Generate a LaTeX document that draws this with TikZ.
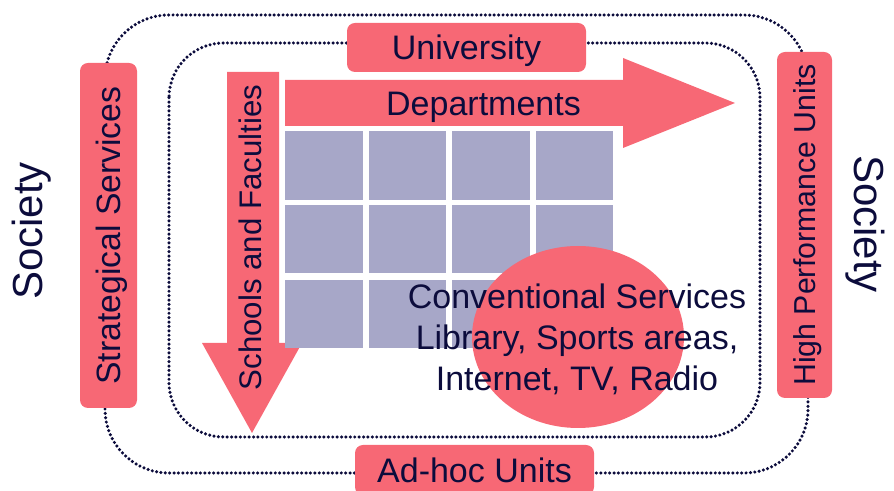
\documentclass[tikz,border=0pt]{standalone}
\usepackage{fontspec}
\setmainfont{Liberation Sans}
\usetikzlibrary{shapes.geometric}
\definecolor{boxpink}{RGB}{247,104,117}
\definecolor{cell}{RGB}{167,167,200}
\definecolor{ink}{RGB}{12,12,60}

\begin{document}
\begin{tikzpicture}[x=0.75pt,y=-0.75pt,
  pinkbox/.style={fill=boxpink, rounded corners=6pt, inner sep=0pt, text=ink, text depth=0pt},
  label/.style={text=ink, inner sep=0pt, text depth=0pt},
  dotline/.style={draw=ink, line width=2.6pt, line cap=round, dash pattern=on 0pt off 3.3pt},
  big/.style={font=\fontsize{25.5}{30.75}\selectfont, text height=18.26pt}]
\useasboundingbox (0,0) rectangle (894,491);

% outer and inner dotted frames
\draw[dotline, rounded corners=48pt] (105,15) rectangle (808,473);
\draw[dotline, rounded corners=41pt] (169,43) rectangle (760,437);

% downward arrow of the schools
\fill[boxpink] (227,72) -- (279,72) -- (279,343) -- (302,343) -- (252,433)
  -- (202,343) -- (227,343) -- cycle;

% matrix of cells
\foreach \xa/\xb in {285/363,369/446,452/530,536/613}
  \foreach \ya/\yb in {131/200,205/273,280/348}
    \fill[cell] (\xa,\ya) rectangle (\xb,\yb);

% rightward arrow of the departments
\fill[boxpink] (285,80) -- (623,80) -- (623,58) -- (735,103) -- (623,148)
  -- (623,126) -- (285,126) -- cycle;

% conventional services
\node[ellipse, fill=boxpink, minimum width=159pt, minimum height=136.5pt, inner sep=0pt]
  (conv) at (578,337) {};
\node[font=\fontsize{25.5}{30.75}\selectfont, text=ink, align=center, inner sep=0pt]
  (convtext) at (577,339)
  {Conventional Services\\Library, Sports areas,\\Internet, TV, Radio};

% boxes
\node[pinkbox, big, minimum width=179.25pt, minimum height=36.75pt] (univ)
  at (466.5,47.5) {University};
\node[pinkbox, big, minimum width=179.25pt, minimum height=37.5pt] (adhoc)
  at (474.5,470) {Ad-hoc Units};
\node[pinkbox, font=\fontsize{25.3}{30}\selectfont, text height=18.1pt, rotate=90,
  minimum width=258.75pt, minimum height=42.75pt] (strat)
  at (108.5,235.5) {Strategical Services};
\node[pinkbox, font=\fontsize{22.7}{27}\selectfont, text height=16.25pt, rotate=90,
  minimum width=259.5pt, minimum height=41.25pt] (hpu)
  at (804.5,225) {High Performance Units};

% arrow labels
\node[label, big] (dept) at (483.5,103.5) {Departments};
\node[label, font=\fontsize{23.4}{28}\selectfont, text height=16.75pt, rotate=90]
  (schools) at (250,237.5) {Schools and Faculties};

% society on both sides
\node[label, font=\fontsize{31.5}{36}\selectfont, text height=22.55pt, rotate=90]
  (socl) at (27.5,231) {Society};
\node[label, font=\fontsize{31.5}{36}\selectfont, text height=22.55pt, rotate=-90]
  (socr) at (870,224) {Society};
\end{tikzpicture}
\end{document}
